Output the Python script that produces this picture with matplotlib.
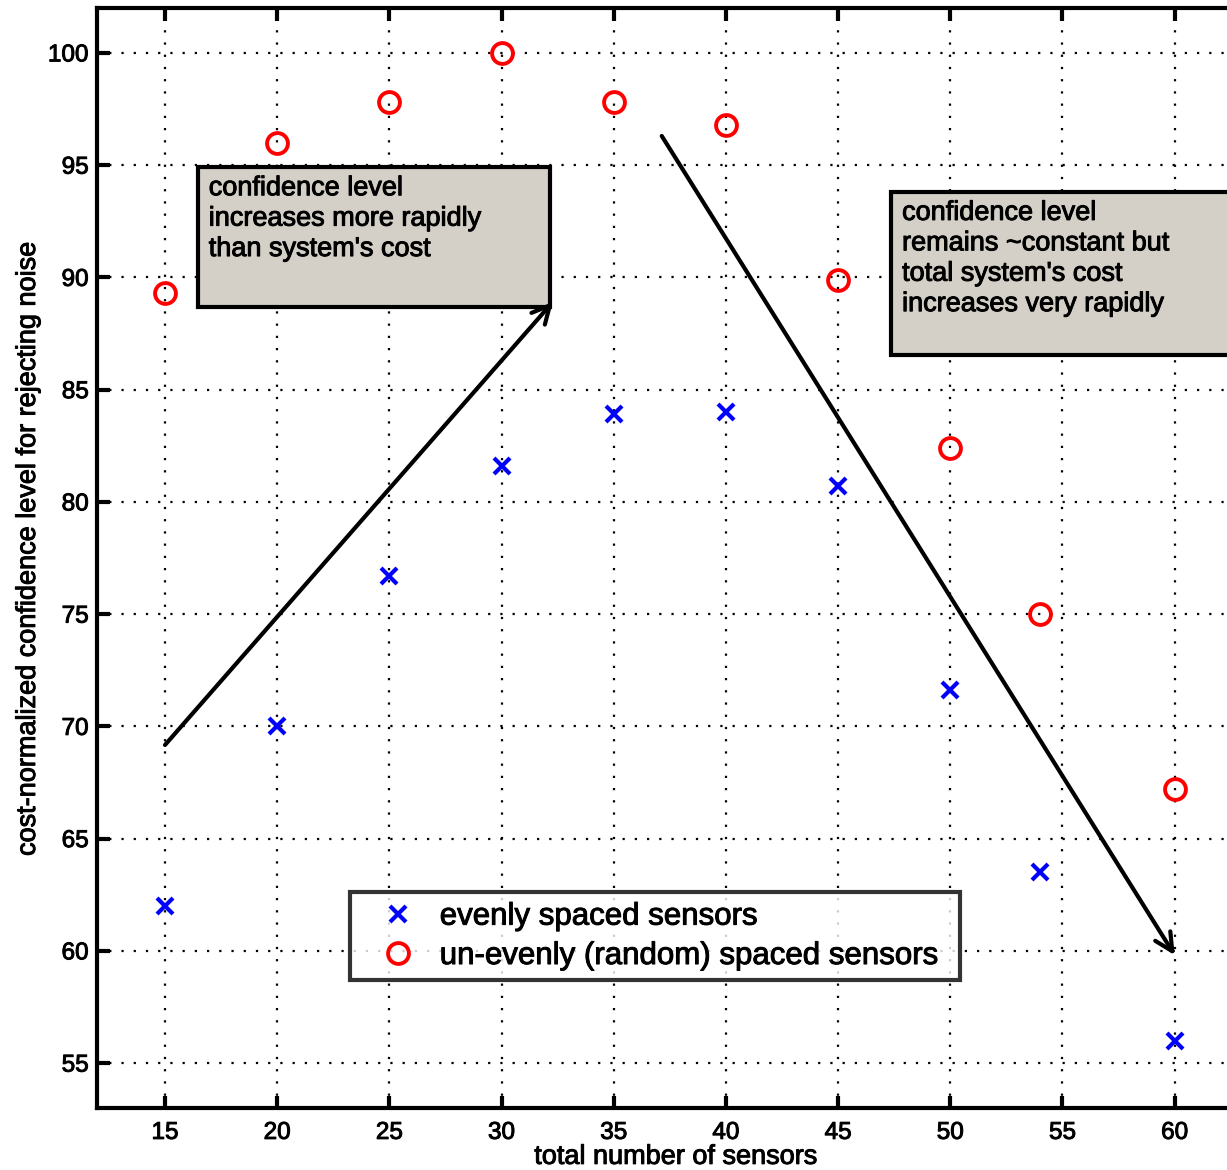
import matplotlib
matplotlib.use("Agg")
import matplotlib.pyplot as plt
from matplotlib.patches import Rectangle
import matplotlib.patheffects as pe

# ---- data ----
sensors = [15, 20, 25, 30, 35, 40, 45, 50, 54, 60]
evenly = [62.0, 70.0, 76.7, 81.6, 83.9, 84.0, 80.7, 71.6, 63.5, 56.0]
random_spaced = [89.3, 96.0, 97.8, 100.0, 97.8, 96.8, 89.9, 82.4, 75.0, 67.2]
xticks = [15, 20, 25, 30, 35, 40, 45, 50, 55, 60]
yticks = [55, 60, 65, 70, 75, 80, 85, 90, 95, 100]
legend_labels = ["evenly spaced sensors", "un-evenly (random) spaced sensors"]
note_left = "confidence level\nincreases more rapidly\nthan system's cost"
note_right = "confidence level\nremains ~constant but\ntotal system's cost\nincreases very rapidly"

plt.rcParams['font.family'] = ['Liberation Sans', 'DejaVu Sans']
heavy = [pe.withStroke(linewidth=0.7, foreground='black')]

fig = plt.figure(figsize=(12.27, 11.70), dpi=100)
ax = fig.add_axes([97/1227, 62/1170, (1242-97)/1227, (1162-62)/1170])
ax.set_xlim(11.97, 63.0)
ax.set_ylim(53.0, 102.0)

ax.set_xticks(xticks)
ax.set_yticks(yticks)
ax.tick_params(direction='in', length=9, width=3, labelsize=17.5, top=True, right=True)
ax.tick_params(axis='y', pad=6)
ax.tick_params(axis='x', pad=10)
for lab in ax.get_xticklabels() + ax.get_yticklabels():
    lab.set_path_effects(heavy)
for s in ax.spines.values():
    s.set_linewidth(3)

ax.grid(True, color='black', linestyle=(0, (1, 4.5)), linewidth=1.6)
ax.set_axisbelow(True)

ax.plot(sensors, evenly, linestyle='none', marker='x', color='#0000ff',
        markersize=11, markeredgewidth=3, label=legend_labels[0], zorder=4)
ax.plot(sensors, random_spaced, linestyle='none', marker='o', markerfacecolor='none',
        markeredgecolor='#ff0000', markersize=15, markeredgewidth=2.8,
        label=legend_labels[1], zorder=4)

xl = ax.set_xlabel("total number of sensors", fontsize=19.5, labelpad=0)
yl = ax.set_ylabel("cost-normalized confidence level for rejecting noise", fontsize=19.5, labelpad=5)
xl.set_x(0.5057)
yl.set_y(0.509)
xl.set_path_effects(heavy)
yl.set_path_effects(heavy)

# annotation boxes
box_color = '#d4d0c8'
ax.add_patch(Rectangle((16.47, 88.68), 32.15 - 16.47, 94.92 - 88.68,
                       facecolor=box_color, edgecolor='black', linewidth=3, zorder=3))
t1 = ax.text(16.95, 94.55, note_left, fontsize=19.5, va='top', ha='left',
             linespacing=1.22, zorder=5)
t1.set_path_effects(heavy)

ax.add_patch(Rectangle((47.35, 86.54), 63.5 - 47.35, 93.81 - 86.54,
                       facecolor=box_color, edgecolor='black', linewidth=3, zorder=3,
                       clip_on=True))
t2 = ax.text(47.85, 93.45, note_right, fontsize=19.5, va='top', ha='left',
             linespacing=1.22, zorder=5)
t2.set_path_effects(heavy)

# arrows
ax.annotate('', xy=(32.29, 88.91), xytext=(15.0, 69.17),
            arrowprops=dict(arrowstyle='->', lw=3, color='black',
                            mutation_scale=32, shrinkA=0, shrinkB=0), zorder=6)
ax.annotate('', xy=(60.0, 59.81), xytext=(37.14, 96.30),
            arrowprops=dict(arrowstyle='->', lw=3, color='black',
                            mutation_scale=32, shrinkA=0, shrinkB=0), zorder=6)

leg = ax.legend(loc='lower left', bbox_to_anchor=(0.221, 0.116, 0.533, 0.085),
                mode='expand', fontsize=22.5, frameon=True, fancybox=False,
                borderpad=0.3, labelspacing=0.3, handletextpad=0.12,
                handlelength=2.45, borderaxespad=0)
leg.get_frame().set_edgecolor('black')
leg.get_frame().set_linewidth(3)
leg.set_zorder(7)
for t in leg.get_texts():
    t.set_path_effects(heavy)

fig.savefig("out.png", dpi=100)
